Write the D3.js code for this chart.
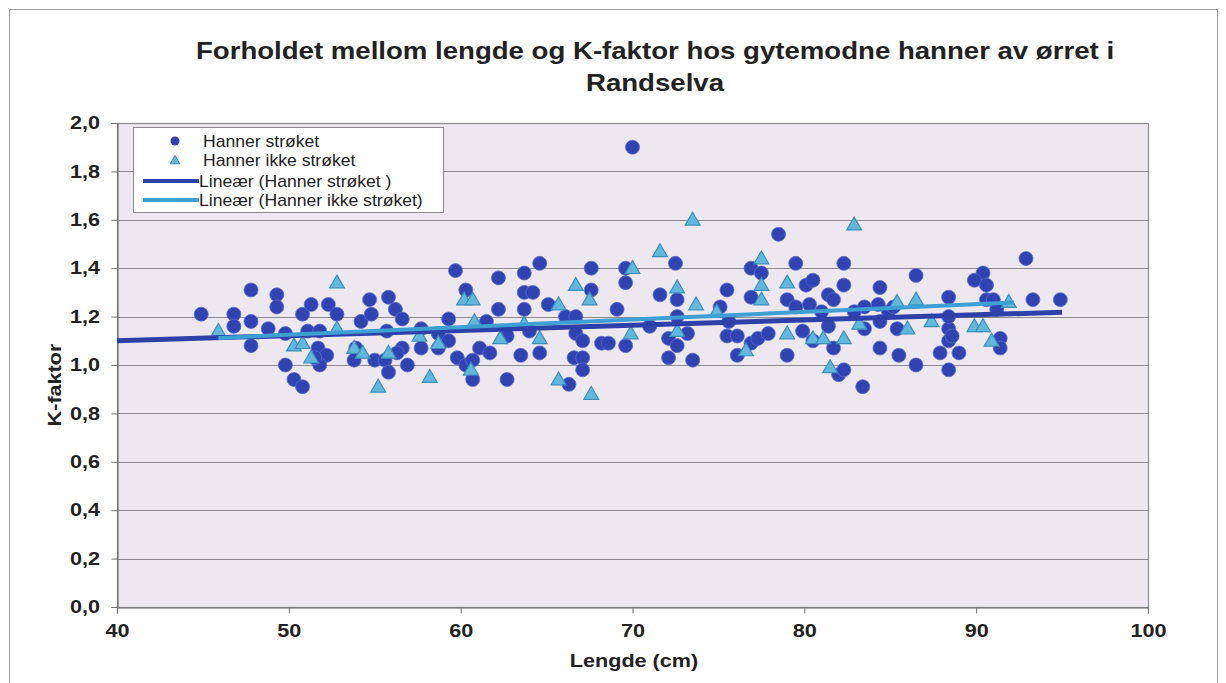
<!DOCTYPE html>
<html>
<head>
<meta charset="utf-8">
<script src="https://cdn.jsdelivr.net/npm/d3@7"></script>
<style>
  body { margin: 0; background: #fff; }
  text { font-family: "Liberation Sans", Arial, sans-serif; }
</style>
</head>
<body>
<svg width="1226" height="683"></svg>
<script>
// **** Data ****

// Hanner strøket (length cm, K-factor)
var strokedLen = [44.9,46.8,46.8,47.8,47.8,47.8,48.8,49.3,49.3,49.8,49.8,50.3,50.8,50.8,51.3,51.1,51.8,51.7,52.2,51.8,52.3,52.8,51.5,53.9,53.8,54.2,54.7,54.8,55.0,55.6,55.8,55.8,56.2,56.6,55.7,56.6,56.3,56.9,
    57.7,57.7,58.7,59.3,59.3,58.7,59.7,60.3,59.8,60.3,60.7,60.7,61.1,61.7,61.5,62.2,62.2,62.7,62.7,63.7,63.7,64.2,63.7,64.0,63.5,64.6,64.6,65.1,66.1,66.7,66.7,67.1,66.6,67.1,67.1,66.3,67.6,67.6,68.2,68.6,69.1,69.6,69.6,69.6,70.0,
    72.5,71.6,72.6,72.6,71.0,72.1,72.6,73.2,72.1,73.5,75.1,75.5,75.6,75.5,76.1,76.1,76.9,77.3,76.9,77.5,76.9,78.5,79.5,79.0,79.5,77.9,79.0,80.1,80.5,80.3,81.4,81.7,79.9,80.5,81.7,82.0,82.3,82.3,82.3,81.4,81.0,
    84.4,86.5,83.5,84.4,84.4,85.5,86.5,85.4,83.4,88.4,88.4,88.4,87.9,89.0,88.4,90.4,89.9,90.6,91.0,91.4,91.4,92.9,93.3,94.9,84.3,83.5,82.9,84.9,85.2,90.6,91.2,88.4,88.6];
var strokedK = [1.21,1.21,1.16,1.31,1.18,1.08,1.15,1.29,1.24,1.13,1.00,0.94,0.91,1.21,1.25,1.14,1.14,1.07,1.04,1.00,1.25,1.21,1.03,1.07,1.02,1.18,1.27,1.21,1.02,1.02,0.97,1.28,1.23,1.19,1.14,1.07,1.05,1.00,
    1.15,1.07,1.13,1.19,1.10,1.07,1.39,1.31,1.03,1.00,1.02,0.94,1.07,1.05,1.18,1.36,1.23,1.12,0.94,1.38,1.30,1.30,1.23,1.14,1.04,1.42,1.05,1.25,1.20,1.20,1.13,1.10,1.03,1.03,0.98,0.92,1.40,1.31,1.09,1.09,1.23,1.40,1.34,1.08,1.90,
    1.42,1.29,1.27,1.20,1.16,1.11,1.08,1.13,1.03,1.02,1.24,1.31,1.18,1.12,1.12,1.04,1.09,1.11,1.40,1.38,1.28,1.54,1.42,1.27,1.24,1.13,1.04,1.33,1.35,1.25,1.29,1.27,1.14,1.10,1.07,0.96,0.98,1.42,1.33,1.16,1.22,
    1.32,1.37,1.15,1.18,1.07,1.04,1.00,1.15,0.91,1.28,1.15,1.10,1.05,1.05,0.98,1.38,1.35,1.27,1.27,1.11,1.07,1.44,1.27,1.27,1.25,1.24,1.22,1.22,1.24,1.33,1.23,1.20,1.12];

// Hanner ikke strøket
var notStrokedLen = [45.9,50.3,50.8,51.3,52.8,52.8,53.8,54.3,55.8,55.2,57.6,58.7,58.2,60.2,60.7,60.8,60.6,62.3,63.7,64.6,65.7,66.7,67.5,65.7,67.6,
    70.0,71.6,73.5,72.6,73.7,69.9,72.6,74.9,76.6,77.5,77.5,77.5,79.0,79.0,80.5,81.1,82.3,81.5,82.9,83.2,85.4,86.5,87.4,86.0,89.9,90.4,90.9,91.9];
var notStrokedK = [1.14,1.08,1.09,1.03,1.34,1.15,1.07,1.05,1.05,0.91,1.12,1.09,0.95,1.27,1.27,1.18,0.98,1.11,1.17,1.11,1.25,1.33,1.27,0.94,0.88,
    1.40,1.47,1.60,1.32,1.25,1.13,1.14,1.22,1.06,1.44,1.33,1.27,1.34,1.13,1.11,1.11,1.11,0.99,1.58,1.17,1.26,1.27,1.18,1.15,1.16,1.16,1.10,1.26];

// Linear trendlines (start and end, as drawn)
var trendStrokedLen = [40, 95.0];
var trendStrokedK = [1.10, 1.218];
var trendNotStrokedLen = [45.9, 92.2];
var trendNotStrokedK = [1.112, 1.258];

var xTicks = [40, 50, 60, 70, 80, 90, 100];
var yTicks = [0, 0.2, 0.4, 0.6, 0.8, 1.0, 1.2, 1.4, 1.6, 1.8, 2.0];

var legendLabels = ["Hanner strøket", "Hanner ikke strøket", "Lineær (Hanner strøket )", "Lineær (Hanner ikke strøket)"];

// **** Colours ****
var darkBlue = "#3043b2";
var lightBlue = "#62b8dc";
var lightBlueEdge = "#3b8fba";
var darkLine = "#2d41a8";
var lightLine = "#3d9fd2";

// the scanned chart is a bit stretched sideways
var stretch = 1.2;

// **** Scales and axes ****
var svg = d3.select("svg");

var xScale = d3.scaleLinear().domain([40, 100]).range([117, 1148]);
var yScale = d3.scaleLinear().domain([0, 2]).range([607, 123]);

var commaFmt = d3.formatLocale({decimal: ",", thousands: " ", grouping: [3], currency: ["", ""]}).format(".1f");

// outer frame
svg.append("rect")
    .attr("x", 9.5).attr("y", 9.5)
    .attr("width", 1208).attr("height", 690)
    .attr("fill", "#fff")
    .attr("stroke", "#a0a0a0");

// plot background
svg.append("rect")
    .attr("x", 117).attr("y", 123)
    .attr("width", 1148 - 117).attr("height", 607 - 123)
    .attr("fill", "#ede8f0");

// gridlines
svg.append("g").selectAll("line")
    .data(yTicks.filter(d => d > 0))
    .enter().append("line")
    .attr("x1", 117).attr("x2", 1148)
    .attr("y1", d => Math.round(yScale(d)) + 0.5)
    .attr("y2", d => Math.round(yScale(d)) + 0.5)
    .attr("stroke", "#8c8a8e")
    .attr("stroke-width", 1.2);

svg.append("rect")
    .attr("x", 117.5).attr("y", 123.5)
    .attr("width", 1148 - 117).attr("height", 607 - 123)
    .attr("fill", "none")
    .attr("stroke", "#8a8a8a")
    .attr("stroke-width", 1.2);

var xAxis = svg.append("g").attr("class", "x axis")
    .attr("transform", "translate(0,607.5)")
    .call(d3.axisBottom(xScale).tickValues(xTicks).tickSize(6).tickPadding(11).tickFormat(d => d));

var yAxis = svg.append("g").attr("class", "y axis")
    .attr("transform", "translate(117.5,0)")
    .call(d3.axisLeft(yScale).tickValues(yTicks).tickSize(6).tickPadding(8.5).tickFormat(commaFmt));

[xAxis, yAxis].forEach(function(ax) {
    ax.select(".domain").attr("stroke", "#707070").attr("stroke-width", 1.2);
    ax.selectAll(".tick line").attr("stroke", "#707070");
    ax.selectAll(".tick text")
        .attr("fill", "#222")
        .attr("transform", `scale(${stretch},1)`)
        .style("font-family", "'Liberation Sans', Arial, sans-serif")
        .style("font-size", "18px")
        .style("font-weight", "bold");
});

// **** Labels ****
function label(x, y, size, txt, rot) {
    svg.append("text")
        .attr("text-anchor", "middle")
        .attr("transform", `translate(${x},${y})` + (rot ? " rotate(-90)" : "") + ` scale(${stretch},1)`)
        .style("font-size", size + "px").style("font-weight", "bold")
        .attr("fill", "#222")
        .text(txt);
}

label(655, 59, 23, "Forholdet mellom lengde og K-faktor hos gytemodne hanner av ørret i");
label(655, 91, 23, "Randselva");
label(634, 667, 18, "Lengde (cm)");
label(61, 385, 18, "K-faktor", true);

// **** Points ****
var stroked = strokedLen.map((d, i) => ({x: d, y: strokedK[i]}));
var notStroked = notStrokedLen.map((d, i) => ({x: d, y: notStrokedK[i]}));

svg.append("g").selectAll("circle")
    .data(stroked)
    .enter().append("circle")
    .attr("cx", d => xScale(d.x))
    .attr("cy", d => yScale(d.y))
    .attr("r", 7)
    .attr("fill", darkBlue)
    .attr("stroke", "#5a6cd0")
    .attr("stroke-width", 0.8);

var tri = d3.symbol().type(d3.symbolTriangle).size(95);
svg.append("g").selectAll("path")
    .data(notStroked)
    .enter().append("path")
    .attr("d", tri)
    .attr("transform", d => `translate(${xScale(d.x)},${yScale(d.y) + 1})`)
    .attr("fill", lightBlue)
    .attr("stroke", lightBlueEdge)
    .attr("stroke-width", 1.2);

// **** Trendlines ****
var line = d3.line().x(d => xScale(d[0])).y(d => yScale(d[1]));

svg.append("path")
    .datum(trendStrokedLen.map((d, i) => [d, trendStrokedK[i]]))
    .attr("d", line)
    .attr("stroke", darkLine).attr("stroke-width", 5).attr("fill", "none");

svg.append("path")
    .datum(trendNotStrokedLen.map((d, i) => [d, trendNotStrokedK[i]]))
    .attr("d", line)
    .attr("stroke", lightLine).attr("stroke-width", 4).attr("fill", "none");

// **** Legend ****
var legend = svg.append("g").attr("transform", "translate(133,127)");

legend.append("rect")
    .attr("x", 0.5).attr("y", 0.5)
    .attr("width", 310).attr("height", 85)
    .attr("fill", "#fff")
    .attr("stroke", "#8a8a8a");

var rowY = [14, 33, 54, 73];

legend.append("circle")
    .attr("cx", 42).attr("cy", rowY[0]).attr("r", 4.5)
    .attr("fill", darkBlue);

legend.append("path")
    .attr("d", d3.symbol().type(d3.symbolTriangle).size(40))
    .attr("transform", `translate(42,${rowY[1] + 1})`)
    .attr("fill", lightBlue).attr("stroke", lightBlueEdge);

legend.append("line")
    .attr("x1", 10).attr("x2", 66)
    .attr("y1", rowY[2]).attr("y2", rowY[2])
    .attr("stroke", darkLine).attr("stroke-width", 4);

legend.append("line")
    .attr("x1", 10).attr("x2", 66)
    .attr("y1", rowY[3]).attr("y2", rowY[3])
    .attr("stroke", lightLine).attr("stroke-width", 4);

legend.selectAll("text.lbl")
    .data(legendLabels)
    .enter().append("text")
    .attr("class", "lbl")
    .attr("transform", (d, i) => `translate(${i < 2 ? 70 : 66},${rowY[i]}) scale(1.1,1)`)
    .attr("dy", "0.35em")
    .style("font-size", "16px")
    .attr("fill", "#222")
    .text(d => d);
</script>
</body>
</html>
